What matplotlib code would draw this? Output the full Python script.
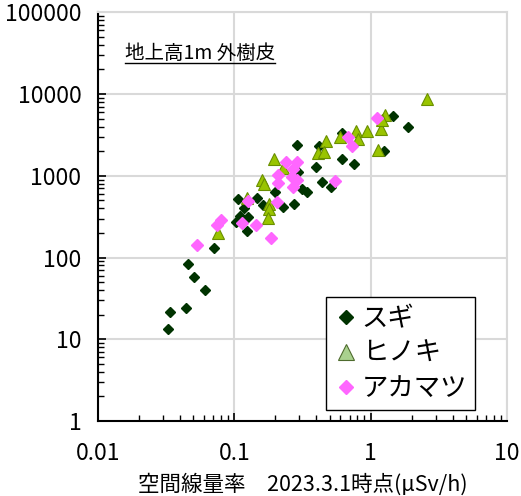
"""
地上高1m 外樹皮の放射性セシウム濃度と空間線量率の関係（散布図）
"""

import matplotlib
matplotlib.use("Agg")
from matplotlib import pyplot as plt
from matplotlib.lines import Line2D

plt.rcParams['font.family'] = ['Noto Sans CJK JP', 'DejaVu Sans']

# スギ
sugi_x = [0.0328, 0.0337, 0.0440, 0.0457, 0.0509, 0.0610, 0.0710, 0.106, 0.1184, 0.102,
          0.110, 0.125, 0.1245, 0.146, 0.161, 0.200, 0.2265, 0.2728, 0.2884, 0.2918,
          0.311, 0.3415, 0.418, 0.3956, 0.4398, 0.5124, 0.6138, 0.620, 0.7516, 1.258,
          1.467, 1.891, 1.212]
sugi_y = [13.4, 21.4, 24.3, 83.3, 57.0, 40.1, 132, 515, 403, 274,
          325, 313, 214, 530, 435, 642, 415, 452, 2380, 1103,
          683, 642, 2334, 1292, 846, 739, 3309, 1605, 1405, 2011,
          5463, 3985, 4812]

# ヒノキ
hinoki_x = [0.0755, 0.1233, 0.1605, 0.1658, 0.1797, 0.1803, 0.1776, 0.1956, 0.2288, 0.4667,
            0.409, 0.4566, 0.5963, 0.781, 0.8127, 0.933, 1.182, 1.265, 1.218, 1.124,
            2.58]
hinoki_y = [198, 542, 876, 804, 458, 387, 304, 1582, 1256, 2665,
            1884, 1971, 2982, 3530, 2795, 3530, 3788, 5587, 4881, 2068,
            8648]

# アカマツ
akamatsu_x = [0.0530, 0.0805, 0.0743, 0.1256, 0.1145, 0.1436, 0.1859, 0.2068, 0.2082, 0.2103,
              0.2394, 0.287, 0.2686, 0.2637, 0.287, 0.268, 0.545, 0.686, 0.727, 1.12]
akamatsu_y = [142, 290, 252, 496, 262, 252, 172, 478, 1031, 821,
              1487, 1487, 1217, 975, 895, 723, 863, 3007, 2314, 5050]

x_ticks = [0.01, 0.1, 1, 10]
x_tick_labels = ['0.01', '0.1', '1', '10']
y_ticks = [1, 10, 100, 1000, 10000, 100000]
y_tick_labels = ['1', '10', '100', '1000', '10000', '100000']

SERIES_NAMES = ['スギ', 'ヒノキ', 'アカマツ']

fig = plt.figure(figsize=(5.21, 4.96), dpi=100)
ax = fig.add_axes([0.1881, 0.1512, 0.785, 0.824])

ax.plot(sugi_x, sugi_y, ls='none', marker='D', ms=5.6, mfc='#003300', mec='#003300', zorder=3)
ax.plot(hinoki_x, hinoki_y, ls='none', marker='^', ms=9, mfc='#99c400', mec='#6a8f00', mew=0.8, zorder=3)
ax.plot(akamatsu_x, akamatsu_y, ls='none', marker='D', ms=6, mfc='#ff66ff', mec='#ff66ff', zorder=3)

ax.set_xscale('log')
ax.set_yscale('log')
ax.set_xlim(0.01, 10)
ax.set_ylim(1, 100000)
ax.set_xticks(x_ticks, x_tick_labels)
ax.set_yticks(y_ticks, y_tick_labels)

ax.grid(True, which='major', color='#d9d9d9', lw=1.5)
ax.set_axisbelow(True)
for side in ['top', 'right']:
    ax.spines[side].set_color('#d9d9d9')
    ax.spines[side].set_linewidth(1.5)
for side in ['left', 'bottom']:
    ax.spines[side].set_linewidth(1.5)

ax.tick_params(which='both', direction='in', top=False, right=False, labelsize=16.5)
ax.tick_params(which='major', length=6, width=1.2)
ax.tick_params(which='minor', length=4, width=1.0)
ax.tick_params(axis='y', pad=12)
ax.tick_params(axis='x', pad=15)

ax.set_xlabel('空間線量率　2023.3.1時点(μSv/h)', fontsize=15.5, labelpad=6)

title = ax.text(0.066, 0.886, '地上高1m 外樹皮', transform=ax.transAxes,
                fontsize=14, ha='left', va='baseline')

handles = [
    Line2D([], [], ls='none', marker='D', ms=7, mfc='#003300', mec='#003300'),
    Line2D([], [], ls='none', marker='^', ms=11, mfc='#a9d18e', mec='#4e6b2e', mew=0.8),
    Line2D([], [], ls='none', marker='D', ms=7, mfc='#ff66ff', mec='#ff66ff'),
]
leg = ax.legend(handles, SERIES_NAMES, loc='upper right', bbox_to_anchor=(0.922, 0.303),
                borderaxespad=0, prop={'size': 19}, handlelength=0.9, handletextpad=0.15,
                borderpad=0.3, labelspacing=0.3, fancybox=False, framealpha=1,
                edgecolor='black')
leg.get_frame().set_linewidth(1.0)

# underline for the in-plot title
fig.canvas.draw()
bb = title.get_window_extent()
inv = fig.transFigure.inverted()
(x0, y0), (x1, _) = inv.transform([(bb.x0, bb.y0), (bb.x1, bb.y0)])
fig.add_artist(Line2D([x0, x1], [y0 + 0.002, y0 + 0.002], transform=fig.transFigure,
                      color='black', lw=1.0))

fig.savefig('out.png', dpi=100)
